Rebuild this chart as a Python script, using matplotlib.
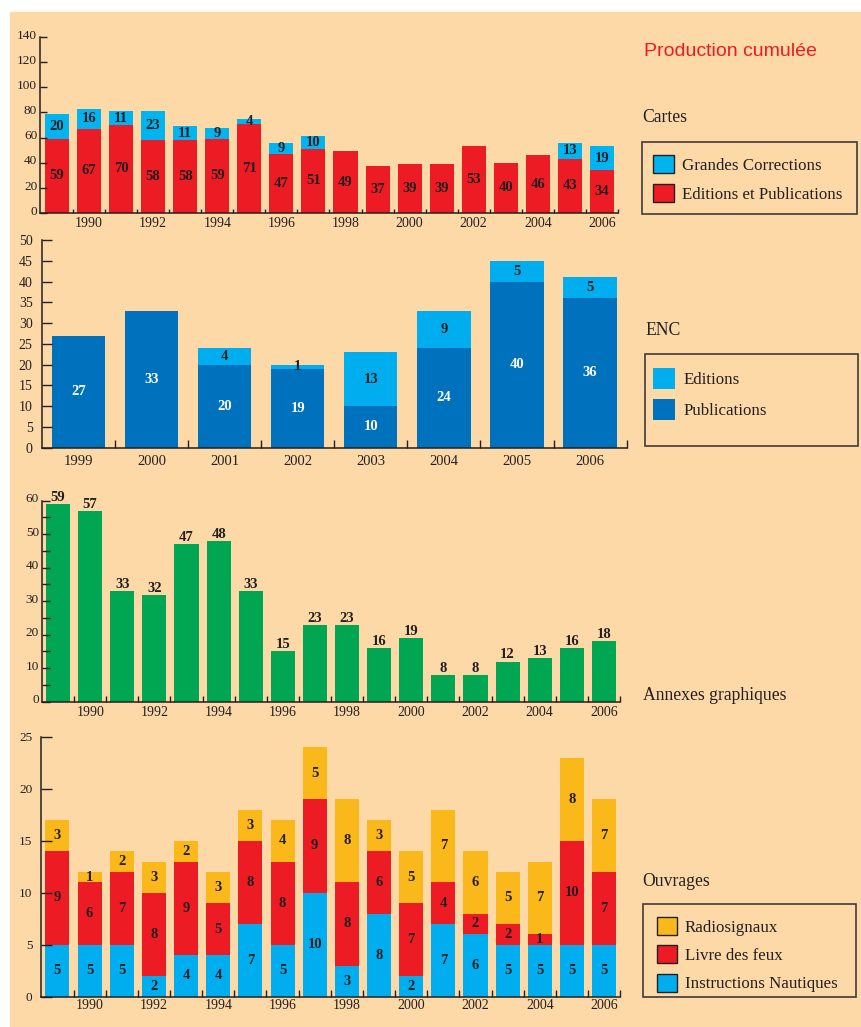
import matplotlib.pyplot as plt
import matplotlib.patches as mpatches
import matplotlib.transforms as mtransforms
import numpy as np

plt.rcParams["font.family"] = "Liberation Serif"

# ---- data ----
years = list(range(1989, 2007))
cartes_editions = [59, 67, 70, 58, 58, 59, 71, 47, 51, 49, 37, 39, 39, 53, 40, 46, 43, 34]
cartes_corrections = [20, 16, 11, 23, 11, 9, 4, 9, 10, 0, 0, 0, 0, 0, 0, 0, 13, 19]

enc_years = list(range(1999, 2007))
enc_publications = [27, 33, 20, 19, 10, 24, 40, 36]
enc_editions = [0, 0, 4, 1, 13, 9, 5, 5]

annexes = [59, 57, 33, 32, 47, 48, 33, 15, 23, 23, 16, 19, 8, 8, 12, 13, 16, 18]

ouv_instructions = [5, 5, 5, 2, 4, 4, 7, 5, 10, 3, 8, 2, 7, 6, 5, 5, 5, 5]
ouv_feux = [9, 6, 7, 8, 9, 5, 8, 8, 9, 8, 6, 7, 4, 2, 2, 1, 10, 7]
ouv_radio = [3, 1, 2, 3, 2, 3, 3, 4, 5, 8, 3, 5, 7, 6, 5, 7, 8, 7]

# ---- colours ----
BG = "#FDD9A8"
INK = "#231F20"
RED = "#ED1C24"
CYAN = "#00B5EF"
LIGHT_BLUE = "#00ADEE"
DARK_BLUE = "#0071BC"
GREEN = "#00A651"
ORANGE = "#FBB81A"

W, H = 861, 1027
fig = plt.figure(figsize=(W / 100, H / 100), dpi=100, facecolor="white")
fig.add_artist(mpatches.Rectangle((10 / W, 0), 1 - 10 / W, 1 - 12 / H,
                                  transform=fig.transFigure, color=BG, zorder=-10))


def frac(x, y):
    return x / W, 1 - y / H


def add_axes(left, top, right, bottom):
    return fig.add_axes([left / W, 1 - bottom / H, (right - left) / W, (bottom - top) / H])


def style(ax, n, xleft, ylim, yticks, ylabels, ylen, ypad, xlen, xpad, xsize=10, ysize=9.5, yshift=0):
    ax.set_facecolor("none")
    for s in ["top", "right"]:
        ax.spines[s].set_visible(False)
    for s in ["left", "bottom"]:
        ax.spines[s].set_color(INK)
        ax.spines[s].set_linewidth(1.1)
    ax.set_xlim(xleft, n - 0.5)
    ax.set_ylim(*ylim)
    ax.set_xticks(np.arange(n) + 0.5, minor=True)
    ax.tick_params(axis="x", which="minor", direction="in", length=xlen, width=1, color=INK)
    ax.tick_params(axis="x", which="major", length=0, pad=xpad, labelsize=xsize, labelcolor=INK)
    ax.set_yticks(yticks)
    ax.set_yticklabels(ylabels)
    ax.tick_params(axis="y", which="both", direction="in", length=ylen, width=1, color=INK,
                   pad=ypad, labelsize=ysize, labelcolor=INK)
    if yshift:
        off = mtransforms.ScaledTranslation(0, yshift / 72, fig.dpi_scale_trans)
        for lab in ax.get_yticklabels():
            lab.set_transform(lab.get_transform() + off)


def labels_nonzero(vals):
    return [str(v) if v else "" for v in vals]


def legend(handles, labels, x, y, hl, hh, lsp, htp, size=12.2):
    fig.legend(handles, labels, loc="upper left", bbox_to_anchor=frac(x, y),
               bbox_transform=fig.transFigure, frameon=False, borderpad=0, borderaxespad=0,
               handlelength=hl, handleheight=hh, labelspacing=lsp, handletextpad=htp,
               labelcolor=INK, prop={"family": "Liberation Serif", "size": size})


def frame(left, top, right, bottom):
    fig.add_artist(mpatches.Rectangle(frac(left, bottom), (right - left) / W, (bottom - top) / H,
                                      transform=fig.transFigure, fill=False,
                                      edgecolor="#403B3C", lw=1.2))


bold = dict(fontsize=10.5, fontweight="bold", color=INK)
even_idx = [i for i, y in enumerate(years) if y % 2 == 0]
even_lab = [str(years[i]) for i in even_idx]

# ---- Cartes ----
ax1 = add_axes(40, 37, 618, 213)
x = np.arange(len(years))
b1 = ax1.bar(x, cartes_editions, 0.75, color=RED)
b2 = ax1.bar(x, cartes_corrections, 0.75, bottom=cartes_editions, color=CYAN)
ax1.bar_label(b1, labels=labels_nonzero(cartes_editions), label_type="center", **bold)
ax1.bar_label(b2, labels=labels_nonzero(cartes_corrections), label_type="center", **bold)
ax1.set_xticks(even_idx, even_lab)
style(ax1, len(years), -0.53, (0, 140), range(0, 141, 20), [str(v) for v in range(0, 141, 20)],
      5, 2, 3, 3, yshift=2)

# ---- ENC ----
ax2 = add_axes(41.7, 240, 626.7, 447.7)
xe = np.arange(len(enc_years))
e1 = ax2.bar(xe, enc_publications, 0.73, color=DARK_BLUE)
e2 = ax2.bar(xe, enc_editions, 0.73, bottom=enc_publications, color=LIGHT_BLUE)
ax2.bar_label(e1, labels=labels_nonzero(enc_publications), label_type="center",
              fontsize=10.5, fontweight="bold", color="white")
ax2.bar_label(e2, labels=labels_nonzero(enc_editions), label_type="center",
              fontsize=10.5, fontweight="bold", color=INK)
ax2.set_xticks(xe, [str(y) for y in enc_years])
style(ax2, len(enc_years), -0.5, (0, 50), range(0, 51, 5), [str(v) for v in range(0, 51, 5)],
      7, 6.5, 6, 5, xsize=10.5, ysize=10)

# ---- Annexes graphiques ----
ax3 = add_axes(41.7, 500.7, 620, 701.7)
a1 = ax3.bar(x, annexes, 0.75, color=GREEN)
ax3.bar_label(a1, padding=0, **bold)
ax3.set_xticks(even_idx, even_lab)
style(ax3, len(years), -0.51, (0, 60), range(0, 61, 5),
      [str(v) if v % 10 == 0 else "" for v in range(0, 61, 5)], 6, 2, 4, 3, yshift=2)

# ---- Ouvrages ----
ax4 = add_axes(40.7, 736.7, 620.3, 996.7)
bot2 = np.array(ouv_instructions) + np.array(ouv_feux)
o1 = ax4.bar(x, ouv_instructions, 0.75, color=LIGHT_BLUE)
o2 = ax4.bar(x, ouv_feux, 0.75, bottom=ouv_instructions, color=RED)
o3 = ax4.bar(x, ouv_radio, 0.75, bottom=bot2, color=ORANGE)
for cont, vals in [(o1, ouv_instructions), (o2, ouv_feux), (o3, ouv_radio)]:
    ax4.bar_label(cont, labels=labels_nonzero(vals), label_type="center", **bold)
ax4.set_xticks(even_idx, even_lab)
style(ax4, len(years), -0.52, (0, 25), range(0, 26, 5), [str(v) for v in range(0, 26, 5)],
      8, 6, 5, 2)

# ---- right-hand texts and legends ----
fig.text(*frac(644, 52), "Production cumulée", color=RED, fontsize=14,
         family="Liberation Sans", va="center", ha="left")

title_kw = dict(fontsize=12.7, color=INK, va="center", ha="left")
fig.text(*frac(642, 118), "Cartes", **title_kw)
fig.text(*frac(645, 330), "ENC", **title_kw)
fig.text(*frac(642.7, 696), "Annexes graphiques", **title_kw)
fig.text(*frac(642.7, 882), "Ouvrages", **title_kw)

frame(641.7, 142.3, 856.7, 214.3)
legend([mpatches.Patch(facecolor=CYAN, edgecolor=INK, lw=1),
        mpatches.Patch(facecolor=RED, edgecolor=INK, lw=1)],
       ["Grandes Corrections", "Editions et Publications"],
       653, 155, 1.24, 1.258, 0.6, 0.45)

frame(645, 354, 857.7, 446)
legend([mpatches.Patch(facecolor=LIGHT_BLUE), mpatches.Patch(facecolor=DARK_BLUE)],
       ["Editions", "Publications"],
       653.3, 368, 1.26, 1.503, 0.61, 0.55)

frame(642.7, 903.7, 856, 996.7)
legend([mpatches.Patch(facecolor=ORANGE, edgecolor=INK, lw=1),
        mpatches.Patch(facecolor=RED, edgecolor=INK, lw=1),
        mpatches.Patch(facecolor=LIGHT_BLUE, edgecolor=INK, lw=1)],
       ["Radiosignaux", "Livre des feux", "Instructions Nautiques"],
       657.3, 917.3, 1.18, 1.258, 0.56, 0.45)

fig.savefig("out.png", dpi=100, facecolor=fig.get_facecolor())
